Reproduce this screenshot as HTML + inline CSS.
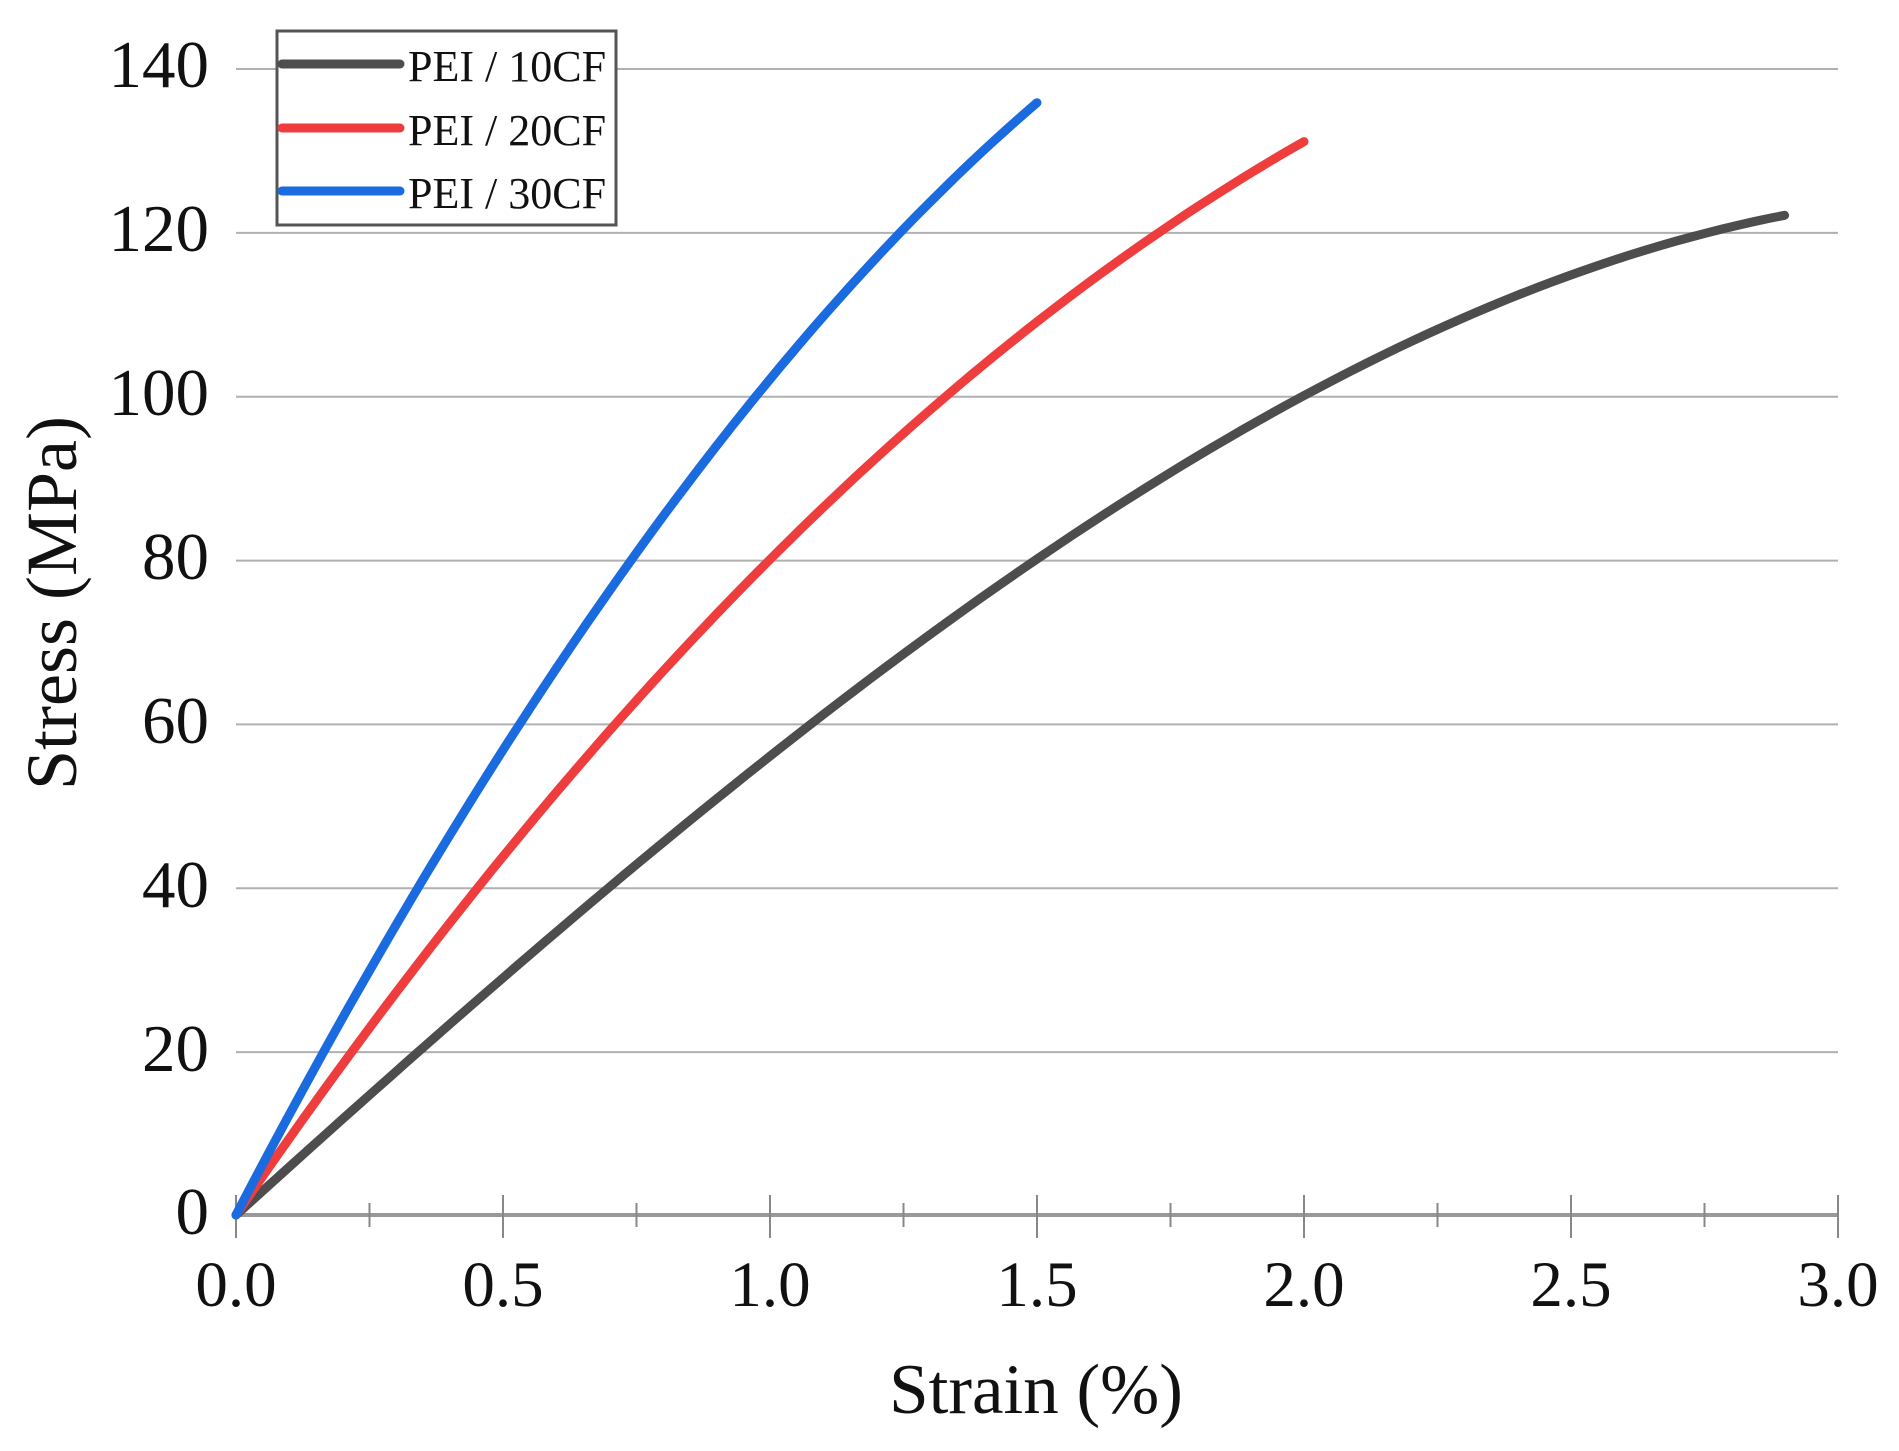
<!DOCTYPE html>
<html><head><meta charset="utf-8"><style>
html,body{margin:0;padding:0;background:#fff;}
svg{display:block;}
text{font-family:"Liberation Serif",serif;fill:#111;}
</style></head><body>
<svg id="s" width="1899" height="1451" viewBox="0 0 1899 1451">
<g stroke="#b0b0b0" stroke-width="2">
<line x1="236" x2="1838" y1="69" y2="69"/>
<line x1="236" x2="1838" y1="232.9" y2="232.9"/>
<line x1="236" x2="1838" y1="396.7" y2="396.7"/>
<line x1="236" x2="1838" y1="560.6" y2="560.6"/>
<line x1="236" x2="1838" y1="724.4" y2="724.4"/>
<line x1="236" x2="1838" y1="888.3" y2="888.3"/>
<line x1="236" x2="1838" y1="1052.1" y2="1052.1"/>
</g>
<line x1="236" x2="1838" y1="1215" y2="1215" stroke="#999" stroke-width="4"/>
<g id="ticks" stroke="#888" stroke-width="2"></g>
<g font-size="67" text-anchor="end">
<text x="209" y="87">140</text>
<text x="209" y="251">120</text>
<text x="209" y="415">100</text>
<text x="209" y="579">80</text>
<text x="209" y="743">60</text>
<text x="209" y="907">40</text>
<text x="209" y="1071">20</text>
<text x="209" y="1234">0</text>
</g>
<g id="xl" font-size="65" text-anchor="middle"></g>
<text x="1036" y="1413" font-size="71" text-anchor="middle">Strain (%)</text>
<text transform="translate(76,603) rotate(-90)" font-size="72" text-anchor="middle">Stress (MPa)</text>
<path id="k" fill="none" stroke="#4d4d4d" stroke-width="9" stroke-linecap="round"/>
<path id="r" fill="none" stroke="#ef3d3d" stroke-width="9" stroke-linecap="round"/>
<path id="b" fill="none" stroke="#1a6ae0" stroke-width="9" stroke-linecap="round"/>
<rect x="277" y="31" width="339" height="194" fill="#fff" stroke="#555" stroke-width="3"/>
<g stroke-width="9" stroke-linecap="round">
<line x1="282" x2="400" y1="64" y2="64" stroke="#4d4d4d"/>
<line x1="282" x2="400" y1="128" y2="128" stroke="#ef3d3d"/>
<line x1="282" x2="400" y1="191" y2="191" stroke="#1a6ae0"/>
</g>
<g font-size="44">
<text x="408" y="81">PEI / 10CF</text>
<text x="408" y="145">PEI / 20CF</text>
<text x="408" y="208">PEI / 30CF</text>
</g>
</svg>
<script>
var X=function(x){return 236+x*534},Y=function(s){return 1215-s*8.194};
function P(f,e){var d="";for(var i=0;i<=100;i++){var x=e*i/100;d+=(i?"L":"M")+X(x).toFixed(1)+" "+Y(f(x)).toFixed(1);}return d;}
document.getElementById("k").setAttribute("d",P(function(x){return 59.04*x-1.56*x*x-1.48*x*x*x},2.9));
document.getElementById("r").setAttribute("d",P(function(x){return 95.17*x-15.5*x*x+0.333*x*x*x},2.0));
document.getElementById("b").setAttribute("d",P(function(x){return 125*x-23*x*x},1.5));
var t=document.getElementById("ticks"),xl=document.getElementById("xl"),ns="http://www.w3.org/2000/svg";
for(var i=0;i<=12;i++){var x=X(i*0.25),maj=i%2==0;var l=document.createElementNS(ns,"line");
l.setAttribute("x1",x);l.setAttribute("x2",x);l.setAttribute("y1",maj?1195:1203);l.setAttribute("y2",maj?1238:1227);t.appendChild(l);
if(maj){var tx=document.createElementNS(ns,"text");tx.setAttribute("x",x);tx.setAttribute("y",1306);tx.textContent=(i*0.25).toFixed(1);xl.appendChild(tx);}}
</script>
</body></html>
